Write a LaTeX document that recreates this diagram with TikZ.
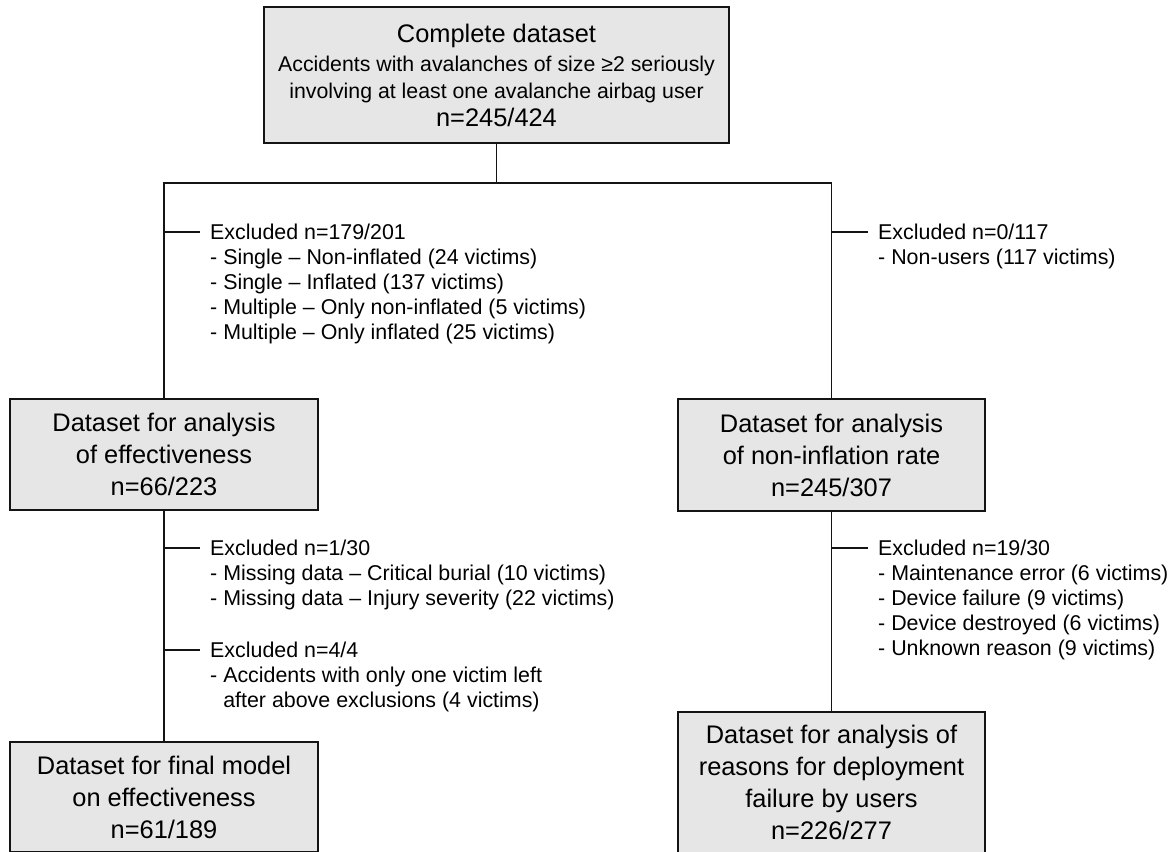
\documentclass[tikz,border=0pt]{standalone}
\usepackage{fontspec}
\setmainfont{Liberation Sans}
\definecolor{boxfill}{RGB}{230,230,230}
\definecolor{ink}{RGB}{20,20,20}
\begin{document}
\begin{tikzpicture}[x=1pt,y=-1pt,
  box/.style={draw=ink, line width=1.6pt, fill=boxfill, align=center, inner sep=0pt,
    font=\fontsize{25.4}{32}\selectfont},
  conn/.style={line width=1.8pt, draw=ink},
  excl/.style={anchor=north west, align=left, inner sep=0pt,
    font=\fontsize{21.4}{25}\selectfont}]
\clip (0,0) rectangle (1174,851);
\fill[white] (0,0) rectangle (1174,851);

% boxes
\node[box, minimum width=465pt, minimum height=136pt,
  font=\fontsize{21.3}{27.5}\selectfont] (top) at (496.5,75)
  {{\fontsize{25.4}{27.5}\selectfont Complete dataset}\\[1.5pt]
   Accidents with avalanches of size ≥2 seriously\\
   involving at least one avalanche airbag user\\
   {\fontsize{25.4}{27.5}\selectfont n=245/424}};
\node[box, minimum width=308pt, minimum height=111pt] (eff) at (164,454.5)
  {Dataset for analysis\\of effectiveness\\n=66/223};
\node[box, minimum width=307pt, minimum height=112pt] (non) at (831.5,455)
  {Dataset for analysis\\of non-inflation rate\\n=245/307};
\node[box, minimum width=308pt, minimum height=110pt] (fin) at (164,797)
  {Dataset for final model\\on effectiveness\\n=61/189};
\node[box, minimum width=307pt, minimum height=141pt] (rea) at (831.5,782.5)
  {Dataset for analysis of\\reasons for deployment\\failure by users\\n=226/277};

% connectors
\coordinate (split) at (496.5,183);
\draw[conn] (top.south) -- (split);
\draw[conn] (eff.north) |- (split) -| (non.north);
\draw[conn] (eff.south) -- (fin.north);
\draw[conn] (non.south) -- (rea.north);

% exclusion ticks
\coordinate (c1) at (164,232);
\coordinate (c2) at (831.5,232);
\coordinate (c3) at (164,548);
\coordinate (c4) at (164,650);
\coordinate (c5) at (831.5,548);
\draw[conn] (c1) -- ++(36,0);
\draw[conn] (c2) -- ++(36,0);
\draw[conn] (c3) -- ++(36,0);
\draw[conn] (c4) -- ++(36,0);
\draw[conn] (c5) -- ++(36,0);

% exclusion texts
\node[excl] (x1) at (210,224) {Excluded n=179/201\\
- Single – Non-inflated (24 victims)\\
- Single – Inflated (137 victims)\\
- Multiple – Only non-inflated (5 victims)\\
- Multiple – Only inflated (25 victims)};
\node[excl] (x2) at (878,224) {Excluded n=0/117\\
- Non-users (117 victims)};
\node[excl] (x3) at (210,540) {Excluded n=1/30\\
- Missing data – Critical burial (10 victims)\\
- Missing data – Injury severity (22 victims)};
\node[excl] (x4) at (210,642) {Excluded n=4/4\\
- Accidents with only one victim left\\
\hphantom{-}\ after above exclusions (4 victims)};
\node[excl] (x5) at (878,540) {Excluded n=19/30\\
- Maintenance error (6 victims)\\
- Device failure (9 victims)\\
- Device destroyed (6 victims)\\
- Unknown reason (9 victims)};
\end{tikzpicture}
\end{document}
